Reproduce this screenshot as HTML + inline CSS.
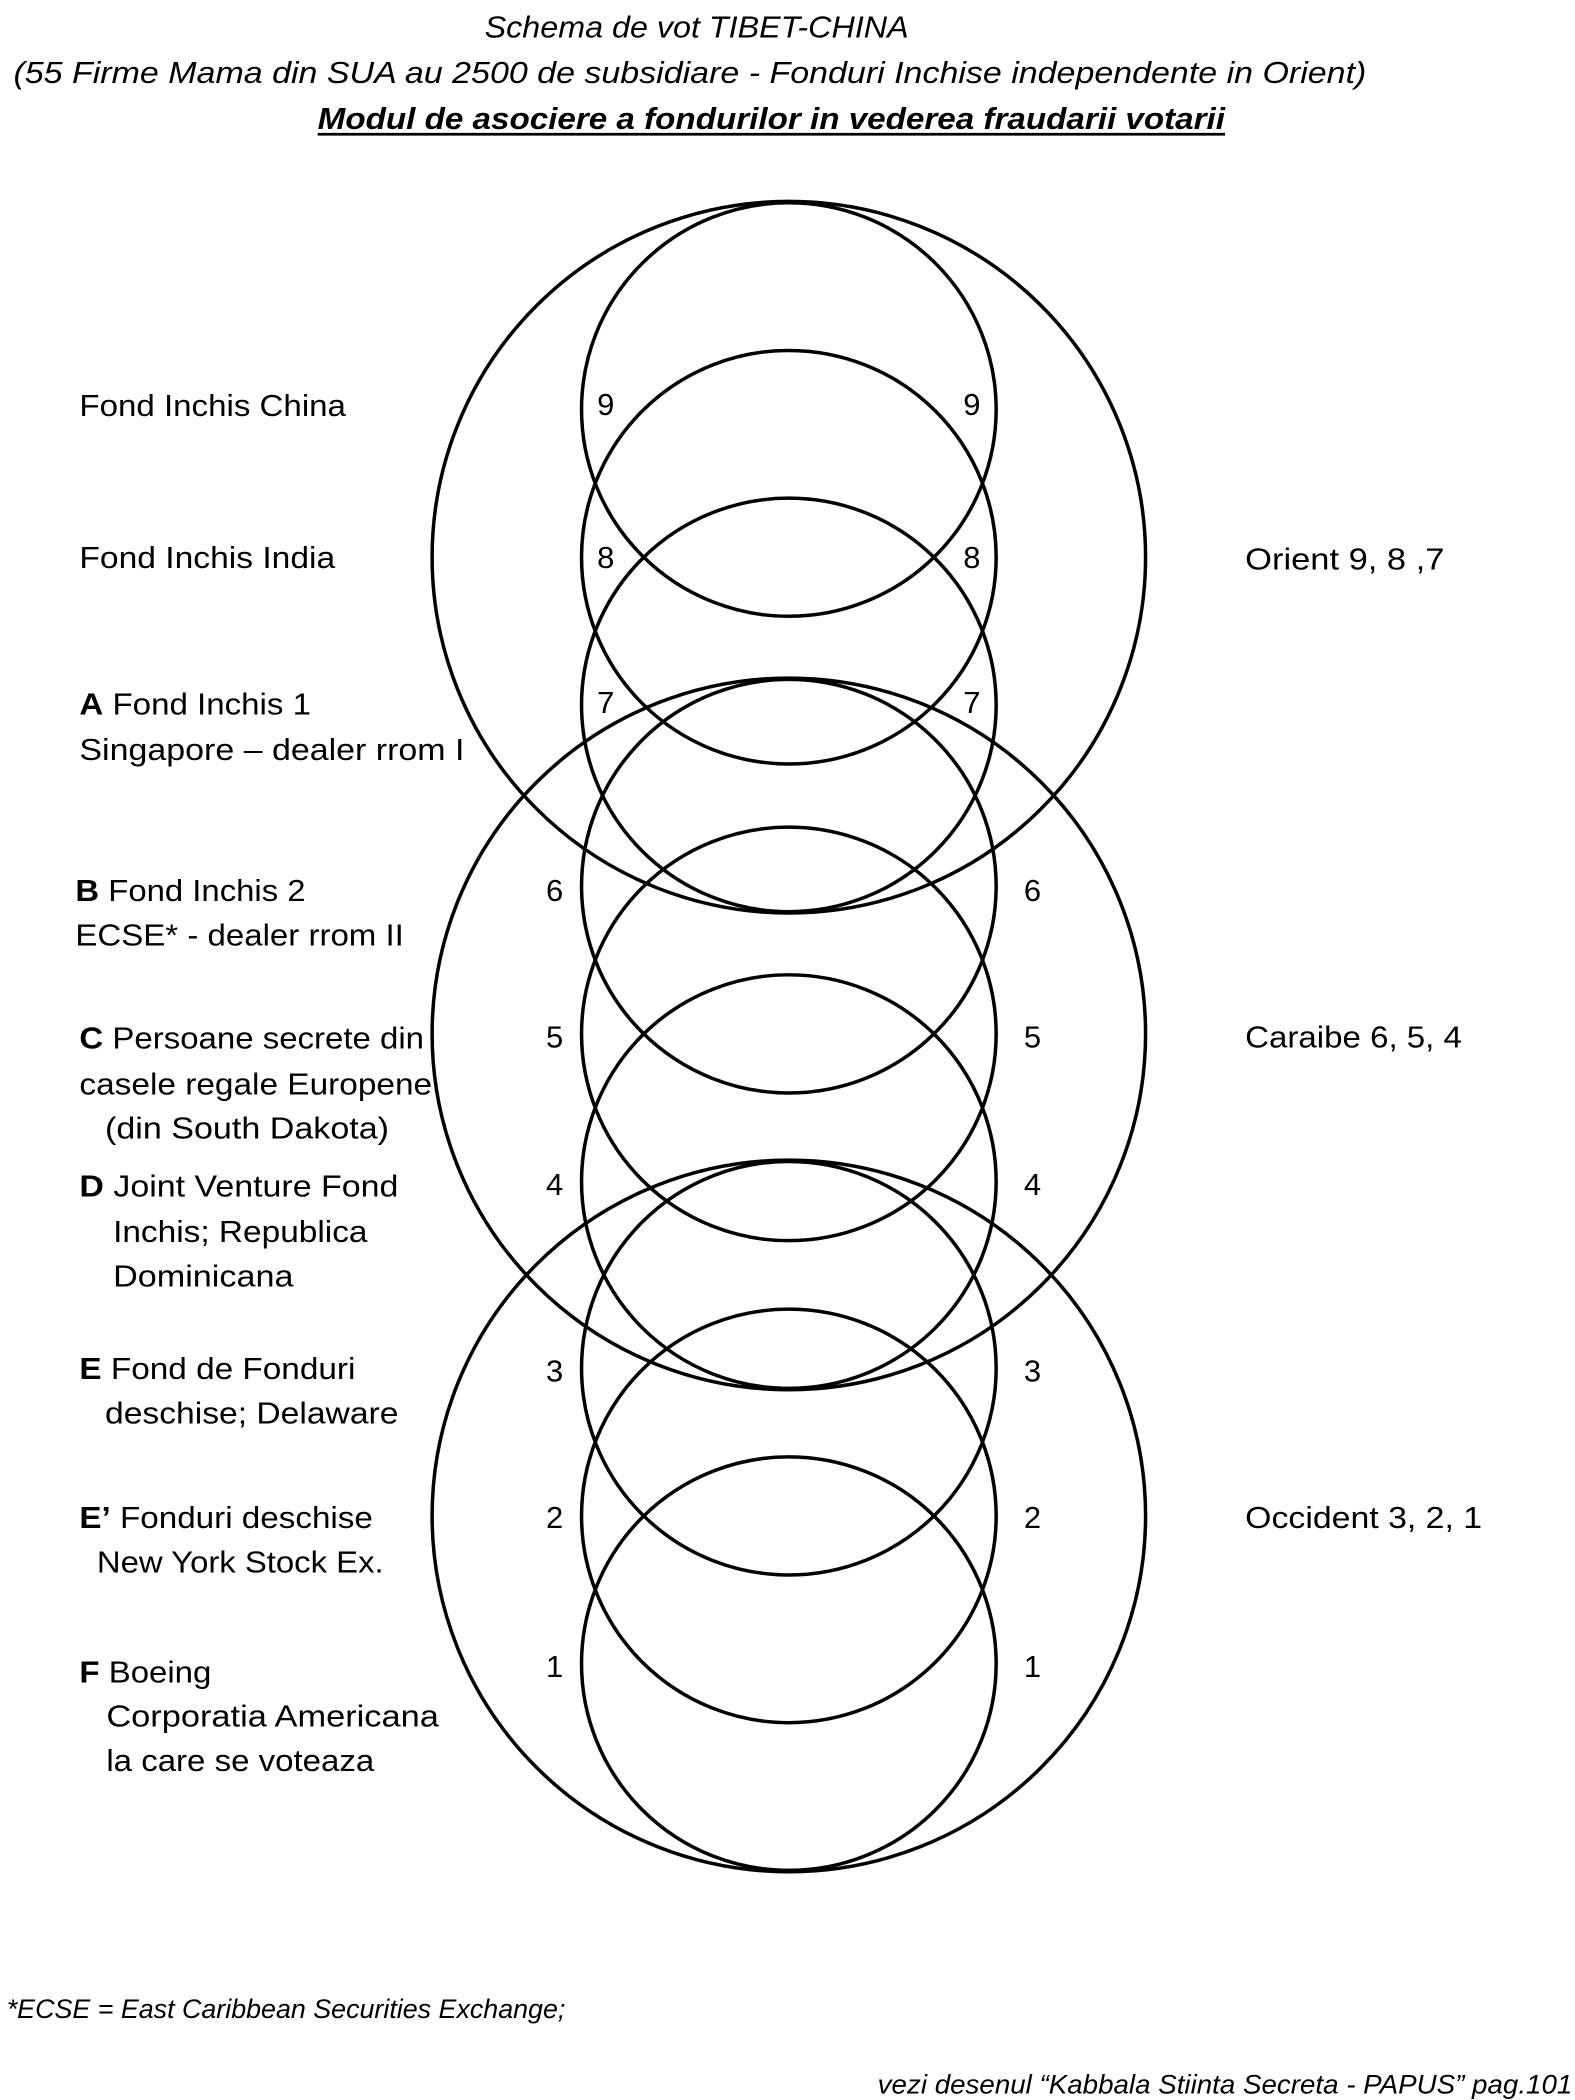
<!DOCTYPE html>
<html><head><meta charset="utf-8"><style>
html,body{margin:0;padding:0;background:#fff;}
svg{display:block;}
text{font-family:"Liberation Sans",sans-serif;fill:#000;}
</style></head><body>
<svg width="1575" height="2100" viewBox="0 0 1170 1564" preserveAspectRatio="none" xmlns="http://www.w3.org/2000/svg">
<g font-style="italic" font-size="23">
<text x="360" y="28" textLength="315" lengthAdjust="spacingAndGlyphs">Schema de vot TIBET-CHINA</text>
<text x="10" y="62" textLength="1005" lengthAdjust="spacingAndGlyphs">(55 Firme Mama din SUA au 2500 de subsidiare - Fonduri Inchise independente in Orient)</text>
<text x="236" y="96" font-weight="bold" textLength="674" lengthAdjust="spacingAndGlyphs">Modul de asociere a fondurilor in vederea fraudarii votarii</text>
</g>
<line x1="236" y1="100" x2="910" y2="100" stroke="#000" stroke-width="2"/>
<g fill="none" stroke="#000" stroke-width="2.6">
<circle cx="586" cy="415" r="265"/>
<circle cx="586" cy="770" r="265"/>
<circle cx="586" cy="1129" r="265"/>
<circle cx="586" cy="305" r="154"/>
<circle cx="586" cy="415" r="154"/>
<circle cx="586" cy="525" r="154"/>
<circle cx="586" cy="660" r="154"/>
<circle cx="586" cy="770" r="154"/>
<circle cx="586" cy="880" r="154"/>
<circle cx="586" cy="1019" r="154"/>
<circle cx="586" cy="1129" r="154"/>
<circle cx="586" cy="1239" r="154"/>
</g>
<g font-size="23" text-anchor="middle">
<text x="450" y="309">9</text><text x="722" y="309">9</text>
<text x="450" y="423">8</text><text x="722" y="423">8</text>
<text x="450" y="531">7</text><text x="722" y="531">7</text>
<text x="412" y="671">6</text><text x="767" y="671">6</text>
<text x="412" y="780">5</text><text x="767" y="780">5</text>
<text x="412" y="890">4</text><text x="767" y="890">4</text>
<text x="412" y="1029">3</text><text x="767" y="1029">3</text>
<text x="412" y="1138">2</text><text x="767" y="1138">2</text>
<text x="412" y="1249">1</text><text x="767" y="1249">1</text>
</g>
<g font-size="23">
<text x="59" y="310" textLength="198" lengthAdjust="spacingAndGlyphs">Fond Inchis China</text>
<text x="59" y="423" textLength="190" lengthAdjust="spacingAndGlyphs">Fond Inchis India</text>
<text x="59" y="532" textLength="172" lengthAdjust="spacingAndGlyphs"><tspan font-weight="bold">A</tspan> Fond Inchis 1</text>
<text x="59" y="566" textLength="286" lengthAdjust="spacingAndGlyphs">Singapore – dealer rrom I</text>
<text x="56" y="671" textLength="171" lengthAdjust="spacingAndGlyphs"><tspan font-weight="bold">B</tspan> Fond Inchis 2</text>
<text x="56" y="704" textLength="244" lengthAdjust="spacingAndGlyphs">ECSE* - dealer rrom II</text>
<text x="59" y="781" textLength="256" lengthAdjust="spacingAndGlyphs"><tspan font-weight="bold">C</tspan> Persoane secrete din</text>
<text x="59" y="815" textLength="262" lengthAdjust="spacingAndGlyphs">casele regale Europene</text>
<text x="78" y="848" textLength="211" lengthAdjust="spacingAndGlyphs">(din South Dakota)</text>
<text x="59" y="891" textLength="237" lengthAdjust="spacingAndGlyphs"><tspan font-weight="bold">D</tspan> Joint Venture Fond</text>
<text x="84" y="925" textLength="189" lengthAdjust="spacingAndGlyphs">Inchis; Republica</text>
<text x="84" y="958" textLength="134" lengthAdjust="spacingAndGlyphs">Dominicana</text>
<text x="59" y="1027" textLength="205" lengthAdjust="spacingAndGlyphs"><tspan font-weight="bold">E</tspan> Fond de Fonduri</text>
<text x="78" y="1060" textLength="218" lengthAdjust="spacingAndGlyphs">deschise; Delaware</text>
<text x="59" y="1138" textLength="218" lengthAdjust="spacingAndGlyphs"><tspan font-weight="bold">E’</tspan> Fonduri deschise</text>
<text x="72" y="1171" textLength="213" lengthAdjust="spacingAndGlyphs">New York Stock Ex.</text>
<text x="59" y="1253" textLength="98" lengthAdjust="spacingAndGlyphs"><tspan font-weight="bold">F</tspan> Boeing</text>
<text x="79" y="1286" textLength="247" lengthAdjust="spacingAndGlyphs">Corporatia Americana</text>
<text x="79" y="1319" textLength="199" lengthAdjust="spacingAndGlyphs">la care se voteaza</text>
<text x="925" y="424" textLength="148" lengthAdjust="spacingAndGlyphs">Orient 9, 8 ,7</text>
<text x="925" y="780" textLength="161" lengthAdjust="spacingAndGlyphs">Caraibe 6, 5, 4</text>
<text x="925" y="1138" textLength="176" lengthAdjust="spacingAndGlyphs">Occident 3, 2, 1</text>
</g>
<g font-size="20" font-style="italic">
<text x="5" y="1503" textLength="415" lengthAdjust="spacingAndGlyphs">*ECSE = East Caribbean Securities Exchange;</text>
<text x="652" y="1559" textLength="516" lengthAdjust="spacingAndGlyphs">vezi desenul “Kabbala Stiinta Secreta - PAPUS” pag.101</text>
</g>
</svg>
</body></html>
